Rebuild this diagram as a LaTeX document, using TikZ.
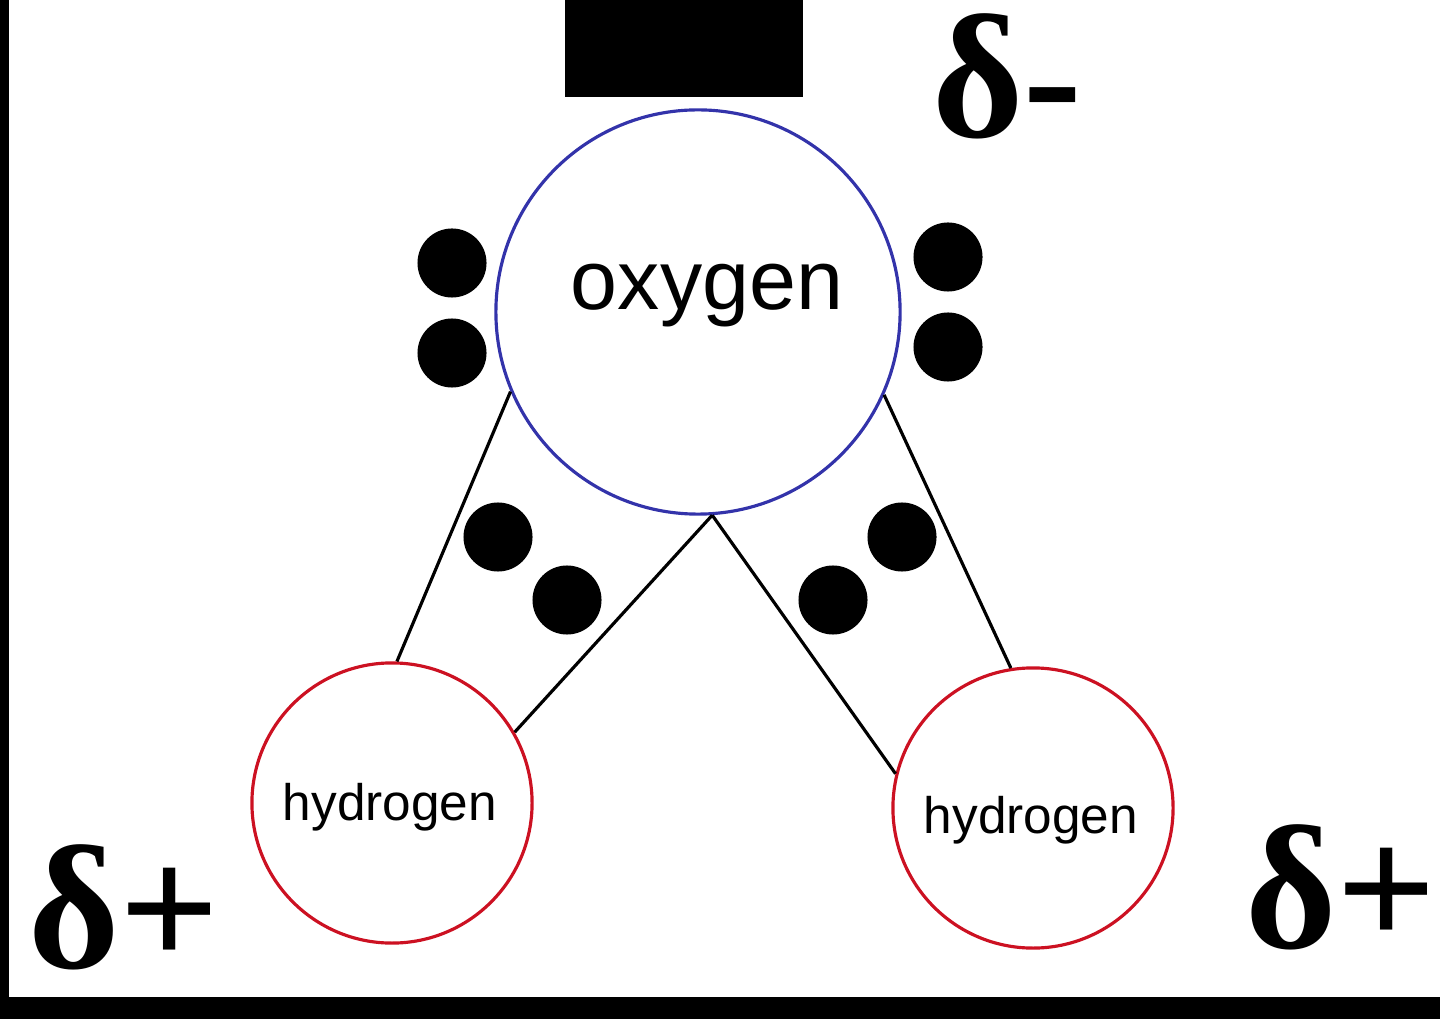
\documentclass[tikz,border=0pt]{standalone}
\usepackage{fontspec}
\setmainfont{Liberation Serif}
\setsansfont{Liberation Sans}
\usetikzlibrary{positioning}
\definecolor{oxyblue}{RGB}{51,51,170}
\definecolor{hydred}{RGB}{204,17,34}

\begin{document}
\begin{tikzpicture}[x=0.01cm, y=-0.01cm,
    atom/.style={circle, draw, line width=0.9pt, inner sep=0pt},
    pair/.style={circle, fill=black, minimum size=0.69cm, inner sep=0pt},
    bond/.style={line width=0.9pt},
    charge/.style={font=\fontsize{50}{50}\selectfont\bfseries, anchor=base west,
                   inner sep=0pt, text height=36pt, text depth=1pt}]
    \useasboundingbox (0,0) rectangle (1440,1019);

    % Frame and top block
    \fill (0,0) rectangle (9,997);
    \fill (0,997) rectangle (1440,1019);
    \fill (565,0) rectangle (803,97);

    % Atoms
    \node[atom, oxyblue, minimum size=4.04cm] (oxy) at (698,312) {};
    \node[atom, hydred, minimum size=2.8cm] (hleft) at (392,803) {};
    \node[atom, hydred, minimum size=2.8cm] (hright) at (1033,808) {};

    \node[font=\sffamily\fontsize{24}{24}\selectfont, anchor=base, inner sep=0pt] (oxytext) at (707,310) {oxygen};
    \node[font=\sffamily\fontsize{14.6}{14.6}\selectfont, anchor=base, inner sep=0pt] (hlefttext) at (390,820) {hydrogen};
    \node[font=\sffamily\fontsize{14.6}{14.6}\selectfont, anchor=base, inner sep=0pt] (hrighttext) at (1031,833) {hydrogen};

    % Electron pairs
    \foreach \name/\px/\py in {lp1/452/263, lp2/452/353, rp1/948/257, rp2/948/347,
                               bl1/498/537, bl2/567/600, br1/902/537, br2/833/600} {
        \node[pair] (\name) at (\px,\py) {};
    }

    % Bonds
    \draw[bond] (oxy.203) -- (hleft.88);
    \draw[bond] (oxy.274) -- (hleft.30);
    \draw[bond] (oxy.274) -- (hright.166);
    \draw[bond] (oxy.336) -- (hright.99);

    % Partial charges
    \node[charge] (dminus) at (932,137) {δ-};
    \node[charge] (dplusl) at (28,967) {δ+};
    \node[charge] (dplusr) at (1245,947) {δ+};
\end{tikzpicture}
\end{document}
